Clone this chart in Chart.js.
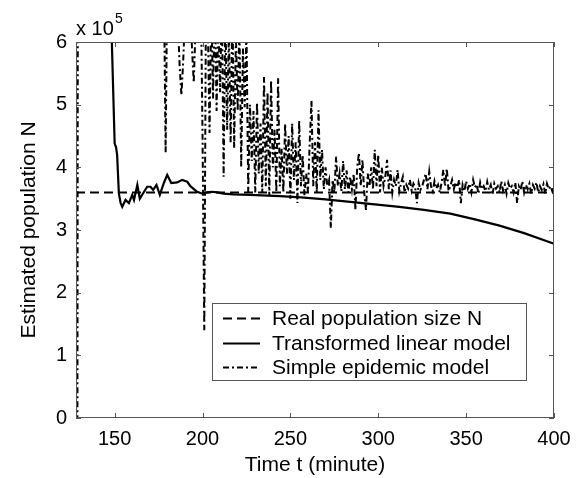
<!DOCTYPE html>
<html>
<head>
<meta charset="utf-8">
<script src="https://cdn.jsdelivr.net/npm/chart.js@4"></script>
<style>
  body { margin: 0; background: #fff; }
  canvas { display: block; }
</style>
</head>
<body>
<canvas id="chart" width="580" height="478"></canvas>
<script>
"use strict";

// values are in units of 10^5
const xTicks = [150, 200, 250, 300, 350, 400];
const yTicks = [0, 1, 2, 3, 4, 5, 6];
const labels = ['Real population size N', 'Transformed linear model', 'Simple epidemic model'];

const realT = [128, 400];
const realN = [3.6, 3.6];

const linT = [148.1, 150, 150.8, 151.4, 152.4, 153.4, 154.3, 156.2, 158.1, 160, 161, 162.9, 164.3, 166.3,
	168.5, 170.4, 171.9, 173.8, 175.7, 178, 179.9, 182.2, 185.6, 188.4, 191.3, 193.1, 196.9, 199.8,
	202.6, 205.5, 208.3, 212, 217.7, 227, 244, 256, 270, 284, 298, 312, 326, 341, 355, 369, 383, 398, 400];
const linN = [6.3, 4.38, 4.32, 4.2, 3.58, 3.43, 3.37, 3.48, 3.43, 3.56, 3.48, 3.72, 3.5, 3.59,
	3.69, 3.69, 3.64, 3.72, 3.56, 3.75, 3.88, 3.75, 3.76, 3.8, 3.77, 3.7, 3.61, 3.58,
	3.6, 3.61, 3.6, 3.58, 3.57, 3.56, 3.54, 3.52, 3.49, 3.45, 3.41, 3.37, 3.32, 3.26, 3.17, 3.07, 2.95, 2.80, 2.78];

// simple epidemic model: first few irregular samples, then one per minute from 178
const epiHeadT = [128.8, 129.1, 150];
const epiHeadN = [-0.5, 9, 8.5];
const epiStart = 178;
const epiN = [
	7.0, 4.23, 7.2, 6.9, 6.4, 7.1, 6.6, 6.8, 6.3, 5.6,      // 178-187
	5.15, 5.7, 6.4, 6.9, 6.2, 6.6, 5.9, 5.35, 6.2, 6.8,     // 188-197
	6.4, 6.9, 4.5, 1.4, 6.9, 6.3, 4.55, 6.6, 5.1, 6.8,      // 198-207
	4.9, 6.4, 5.2, 6.7, 3.85, 6.5, 4.6, 6.2, 4.4, 6.6,      // 208-217
	4.3, 6.1, 4.9, 6.3, 4.0, 5.9, 4.96, 6.2, 3.6, 5.0,      // 218-227
	4.1, 4.9, 3.6, 5.04, 3.9, 4.7, 3.6, 5.44, 3.7, 5.2,     // 228-237
	3.55, 5.39, 4.0, 4.6, 3.6, 5.42, 3.7, 4.3, 3.6, 4.7,    // 238-247
	3.9, 4.5, 3.5, 4.7, 3.8, 4.4, 3.43, 4.75, 3.7, 4.2,     // 248-257
	3.55, 3.9, 3.6, 4.4, 5.07, 3.7, 4.4, 3.6, 4.91, 3.8,    // 258-267
	4.28, 3.65, 4.0, 3.7, 3.8, 3.03, 3.8, 3.6, 4.17, 3.7,   // 268-277
	3.9, 3.62, 4.1, 3.65, 3.95, 3.6, 3.85, 3.65, 3.9, 3.32, // 278-287
	4.0, 4.23, 3.7, 4.12, 3.6, 3.32, 3.9, 3.7, 4.0, 3.65,   // 288-297
	4.28, 3.7, 4.2, 3.6, 4.0, 3.7, 3.85, 4.12, 3.65, 3.95,  // 298-307
	3.6, 3.8, 3.7, 3.96, 3.62, 3.75, 3.85, 3.6, 3.72, 3.66, // 308-317
	3.8, 3.63, 3.74, 3.68, 3.43, 3.75, 3.64, 3.7, 3.8, 3.9, // 318-327
	3.65, 3.93, 3.7, 3.62, 3.78, 3.66, 3.72, 3.6, 3.75, 3.96, // 328-337
	3.7, 3.98, 3.62, 3.7, 3.8, 3.65, 3.76, 3.68, 3.8, 3.43, // 338-347
	3.72, 3.62, 3.78, 3.66, 3.74, 3.6, 3.8, 3.68, 3.73, 3.58, // 348-357
	3.76, 3.65, 3.7, 3.62, 3.77, 3.64, 3.72, 3.56, 3.74, 3.66, // 358-367
	3.7, 3.6, 3.78, 3.63, 3.72, 3.58, 3.75, 3.66, 3.7, 3.6, // 368-377
	3.76, 3.43, 3.7, 3.64, 3.78, 3.6, 3.72, 3.65, 3.74, 3.58, // 378-387
	3.72, 3.66, 3.76, 3.6, 3.7, 3.64, 3.73, 3.58, 3.74, 3.65, // 388-397
	3.7, 3.62, 3.72                                          // 398-400
];

const FONT = '"Liberation Sans", Arial, sans-serif';

function toPoints(ts, vs) {
	return ts.map((t, i) => ({ x: t, y: vs[i] }));
}

let epiPoints = toPoints(epiHeadT, epiHeadN);
epiN.forEach((v, i) => epiPoints.push({ x: epiStart + i, y: v }));

const styles = [
	{ borderWidth: 2, borderDash: [9, 5] },
	{ borderWidth: 2.2, borderDash: [] },
	{ borderWidth: 2, borderDash: [6, 3, 2, 3] },
];

const framePlugin = {
	id: 'frame',
	afterDraw(chart) {
		const { ctx, chartArea: a, scales } = chart;
		const x = scales.x, y = scales.y;
		ctx.save();
		ctx.strokeStyle = '#555';
		ctx.lineWidth = 1;
		ctx.strokeRect(Math.round(a.left) + 0.5, Math.round(a.top) + 0.5,
			Math.round(a.right - a.left) - 1, Math.round(a.bottom - a.top) - 1);
		const tl = 5;
		ctx.beginPath();
		xTicks.forEach((v) => {
			const px = Math.round(x.getPixelForValue(v)) + 0.5;
			ctx.moveTo(px, a.bottom); ctx.lineTo(px, a.bottom - tl);
			ctx.moveTo(px, a.top); ctx.lineTo(px, a.top + tl);
		});
		yTicks.forEach((v) => {
			const py = Math.round(y.getPixelForValue(v)) + 0.5;
			ctx.moveTo(a.left, py); ctx.lineTo(a.left + tl, py);
			ctx.moveTo(a.right, py); ctx.lineTo(a.right - tl, py);
		});
		ctx.stroke();

		// exponent label
		ctx.fillStyle = '#000';
		ctx.textBaseline = 'alphabetic';
		ctx.textAlign = 'left';
		ctx.font = '20px ' + FONT;
		ctx.fillText('x 10', 76, 35);
		ctx.font = '14px ' + FONT;
		ctx.fillText('5', 115, 23);

		// legend
		const box = { left: 212, top: 303, right: 526, bottom: 380 };
		ctx.fillStyle = '#fff';
		ctx.fillRect(box.left, box.top, box.right - box.left, box.bottom - box.top);
		ctx.strokeStyle = '#555';
		ctx.strokeRect(box.left + 0.5, box.top + 0.5, box.right - box.left, box.bottom - box.top);
		const rows = [318, 343, 367];
		ctx.font = '21px ' + FONT;
		ctx.textBaseline = 'middle';
		labels.forEach((txt, i) => {
			ctx.save();
			ctx.strokeStyle = '#000';
			ctx.lineWidth = styles[i].borderWidth;
			ctx.setLineDash(styles[i].borderDash);
			ctx.beginPath();
			ctx.moveTo(223, rows[i] + 0.5);
			ctx.lineTo(260, rows[i] + 0.5);
			ctx.stroke();
			ctx.restore();
			ctx.fillStyle = '#000';
			ctx.fillText(txt, 272, rows[i] + 1);
		});
		ctx.restore();
	}
};

const datasets = [
	{ label: labels[0], data: toPoints(realT, realN) },
	{ label: labels[1], data: toPoints(linT, linN) },
	{ label: labels[2], data: epiPoints },
].map((d, i) => ({
	...d,
	...styles[i],
	borderColor: '#000',
	pointRadius: 0,
	tension: 0,
	clip: 0,
}));

new Chart(document.getElementById('chart'), {
	type: 'line',
	data: { datasets: datasets },
	options: {
		responsive: false,
		animation: false,
		devicePixelRatio: 1,
		layout: { padding: { top: 42, right: 26, left: 0, bottom: 0 } },
		plugins: { legend: { display: false }, tooltip: { enabled: false } },
		scales: {
			x: {
				type: 'linear',
				min: 128,
				max: 400,
				afterBuildTicks: (s) => { s.ticks = xTicks.map((v) => ({ value: v })); },
				afterFit: (s) => { s.height = 60; },
				grid: { display: false, drawTicks: false },
				border: { display: false },
				ticks: { color: '#000', font: { family: FONT, size: 20 }, padding: 9, maxRotation: 0 },
				title: { display: true, text: 'Time t (minute)', color: '#000', font: { family: FONT, size: 21 }, padding: { top: 0, bottom: 0 } },
			},
			y: {
				min: 0,
				max: 6,
				afterBuildTicks: (s) => { s.ticks = yTicks.map((v) => ({ value: v })); },
				afterFit: (s) => { s.width = 76; },
				grid: { display: false, drawTicks: false },
				border: { display: false },
				ticks: { color: '#000', font: { family: FONT, size: 20 }, padding: 9 },
				title: { display: true, text: 'Estimated population N', color: '#000', font: { family: FONT, size: 21 }, padding: { top: 17, bottom: 0 } },
			},
		},
	},
	plugins: [framePlugin],
});
</script>
</body>
</html>
